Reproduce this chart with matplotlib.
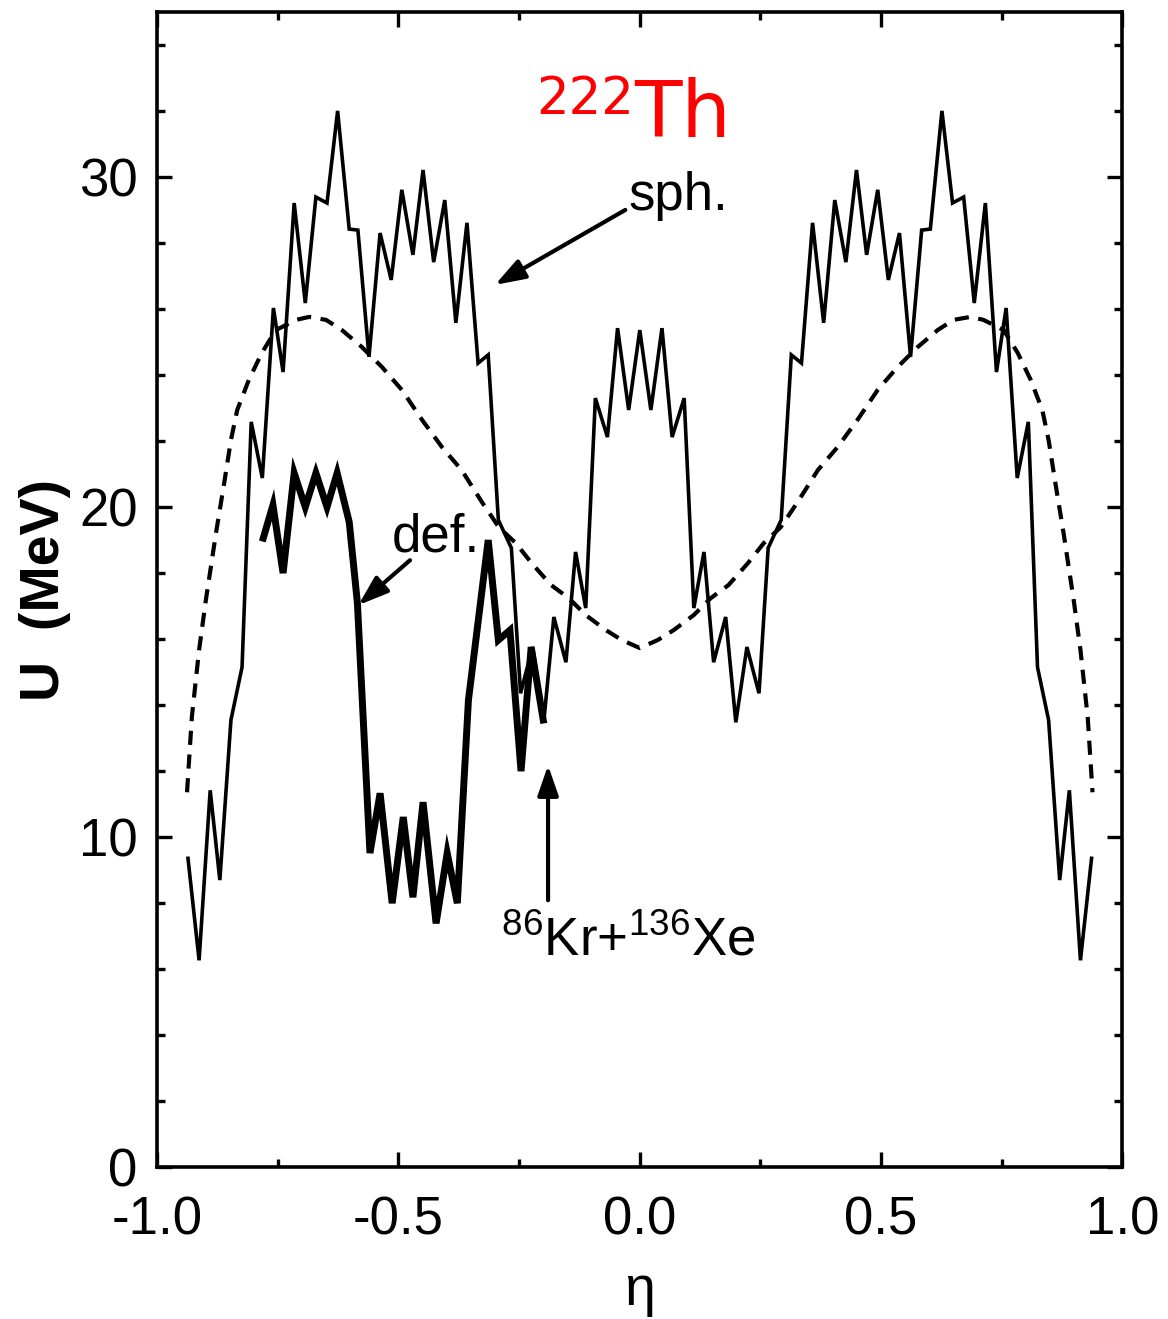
import matplotlib
matplotlib.use("Agg")
import matplotlib.pyplot as plt
from matplotlib.ticker import MultipleLocator

plt.rcParams['font.family'] = ['Liberation Sans', 'DejaVu Sans']
plt.rcParams['mathtext.fontset'] = 'custom'
plt.rcParams['mathtext.rm'] = 'Liberation Sans'
plt.rcParams['mathtext.it'] = 'Liberation Sans'

# spherical fragments (thin line)
eta_sph = [-0.936, -0.913, -0.890, -0.870, -0.847, -0.824, -0.805, -0.782, -0.759, -0.739,
           -0.716, -0.693, -0.671, -0.648, -0.626, -0.602, -0.584, -0.561, -0.538, -0.515,
           -0.493, -0.470, -0.449, -0.427, -0.404, -0.381, -0.358, -0.335, -0.314, -0.293,
           -0.266, -0.247, -0.222, -0.199, -0.178, -0.153, -0.133, -0.112, -0.092, -0.067,
           -0.046, -0.023, 0.000, 0.023, 0.046, 0.067, 0.092, 0.112, 0.133, 0.153, 0.178,
           0.199, 0.222, 0.247, 0.266, 0.293, 0.314, 0.335, 0.358, 0.381, 0.404, 0.427,
           0.449, 0.470, 0.493, 0.515, 0.538, 0.561, 0.584, 0.602, 0.626, 0.648, 0.671,
           0.693, 0.716, 0.739, 0.759, 0.782, 0.805, 0.824, 0.847, 0.870, 0.890, 0.913, 0.936]
U_sph = [9.36, 6.27, 11.42, 8.70, 13.55, 15.15, 22.58, 20.88, 26.03, 24.09,
         29.21, 26.18, 29.39, 29.21, 32.00, 28.42, 28.39, 24.55, 28.30, 26.88,
         29.61, 27.64, 30.21, 27.42, 29.30, 25.58, 28.61, 24.36, 24.61, 19.61,
         18.76, 14.36, 15.76, 13.48, 16.67, 15.30, 18.64, 16.94, 23.30, 22.12,
         25.42, 22.94, 25.36, 22.94, 25.42, 22.12, 23.30, 16.94, 18.64, 15.30, 16.67,
         13.48, 15.76, 14.36, 18.76, 19.61, 24.61, 24.36, 28.61, 25.58, 29.30, 27.42,
         30.21, 27.64, 29.61, 26.88, 28.30, 24.55, 28.39, 28.42, 32.00, 29.21, 29.39,
         26.18, 29.21, 24.09, 26.03, 20.88, 22.58, 15.15, 13.55, 8.70, 11.42, 6.27, 9.36]

# deformed fragments (thick line)
eta_def = [-0.780, -0.760, -0.739, -0.716, -0.693, -0.671, -0.648, -0.627, -0.602, -0.585,
           -0.559, -0.538, -0.513, -0.490, -0.470, -0.449, -0.422, -0.399, -0.378, -0.355,
           -0.314, -0.293, -0.269, -0.246, -0.225, -0.200]
U_def = [19.06, 20.06, 18.00, 21.03, 20.00, 21.03, 20.00, 21.03, 19.55, 17.09,
         9.52, 11.33, 8.00, 10.61, 8.18, 11.06, 7.39, 9.52, 8.00, 14.15,
         19.00, 15.97, 16.27, 12.00, 15.76, 13.55]

# liquid-drop part (dashed)
eta_ld = [-0.938, -0.928, -0.913, -0.899, -0.878, -0.861, -0.847, -0.834, -0.810, -0.783,
          -0.754, -0.712, -0.685, -0.650, -0.617, -0.576, -0.534, -0.493, -0.451, -0.410,
          -0.369, -0.327, -0.292, -0.257, -0.224, -0.184, -0.147, -0.112, -0.070, -0.037,
          0.000, 0.037, 0.070, 0.112, 0.147, 0.184, 0.224, 0.257, 0.292, 0.327, 0.369,
          0.410, 0.451, 0.493, 0.534, 0.576, 0.617, 0.650, 0.685, 0.712, 0.754, 0.783,
          0.810, 0.834, 0.847, 0.861, 0.878, 0.899, 0.913, 0.928, 0.938]
U_ld = [11.36, 13.64, 15.67, 17.18, 19.21, 20.73, 22.03, 22.94, 23.85, 24.67,
        25.36, 25.67, 25.76, 25.67, 25.36, 24.85, 24.24, 23.55, 22.64, 21.82,
        21.12, 20.15, 19.39, 18.91, 18.30, 17.64, 17.24, 16.73, 16.27, 15.97,
        15.73, 15.97, 16.27, 16.73, 17.24, 17.64, 18.30, 18.91, 19.39, 20.15, 21.12,
        21.82, 22.64, 23.55, 24.24, 24.85, 25.36, 25.67, 25.76, 25.67, 25.36, 24.67,
        23.85, 22.94, 22.03, 20.73, 19.21, 17.18, 15.67, 13.64, 11.36]

xticks = [-1.0, -0.5, 0.0, 0.5, 1.0]
xticklabels = ['-1.0', '-0.5', '0.0', '0.5', '1.0']
yticks = [0, 10, 20, 30]
yticklabels = ['0', '10', '20', '30']

fig = plt.figure(figsize=(11.68, 13.19), dpi=100)
ax = fig.add_axes([0.1345, 0.115, 0.8265, 0.876])

ax.plot(eta_ld, U_ld, color='black', lw=3.0, linestyle=(0, (3.4, 2.3)))
ax.plot(eta_sph, U_sph, color='black', lw=2.6, solid_joinstyle='miter')
ax.plot(eta_def, U_def, color='black', lw=5.0, solid_joinstyle='miter')

ax.set_xlim(-1.0, 1.0)
ax.set_ylim(0, 35)
ax.set_xticks(xticks)
ax.set_xticklabels(xticklabels)
ax.set_yticks(yticks)
ax.set_yticklabels(yticklabels)
ax.xaxis.set_minor_locator(MultipleLocator(0.25))
ax.yaxis.set_minor_locator(MultipleLocator(2))
ax.tick_params(which='both', direction='in', top=True, right=True, width=2.4,
               labelsize=38)
ax.tick_params(axis='x', pad=20)
ax.tick_params(axis='y', pad=14)
ax.tick_params(which='major', length=11)
ax.tick_params(which='minor', length=6)
for s in ax.spines.values():
    s.set_linewidth(2.6)

ax.set_xlabel('η', fontsize=40, labelpad=14)
ax.set_ylabel('U  (MeV)', fontsize=40, fontweight='bold', labelpad=6)

# title label
ax.text(-0.012, 31.2, 'Th', color='red', fontsize=56, family='DejaVu Sans',
        ha='left', va='baseline')
ax.text(-0.012, 31.9, '222', color='red', fontsize=37, family='DejaVu Sans',
        ha='right', va='baseline')

arrow = dict(arrowstyle='-|>,head_length=1.3,head_width=0.45', mutation_scale=14,
             color='black', lw=3, shrinkA=0, shrinkB=0)

ax.text(-0.024, 29.0, 'sph.', fontsize=38, ha='left', va='baseline')
ax.annotate('', xy=(-0.300, 26.73), xytext=(-0.030, 29.0), arrowprops=arrow)

ax.text(-0.513, 18.64, 'def.', fontsize=38, ha='left', va='baseline')
ax.annotate('', xy=(-0.583, 17.03), xytext=(-0.476, 18.39), arrowprops=arrow)

ax.text(-0.287, 6.42, r'$^{86}$Kr+$^{136}$Xe', fontsize=38, ha='left', va='baseline')
ax.annotate('', xy=(-0.190, 12.18), xytext=(-0.190, 8.09), arrowprops=arrow)

fig.savefig('out.png', dpi=100)
